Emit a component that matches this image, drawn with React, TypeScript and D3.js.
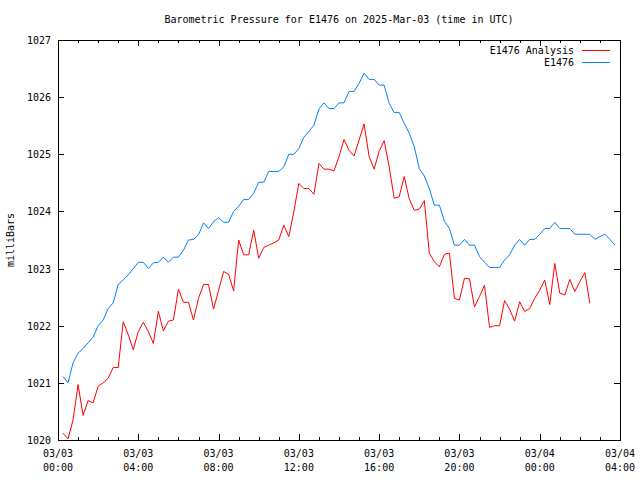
import React from "react";
import * as d3 from "d3";

const TITLE = "Barometric Pressure for E1476 on 2025-Mar-03 (time in UTC)";
const Y_LABEL = "milliBars";
const SERIES_NAMES = ["E1476 Analysis", "E1476"];
const SERIES_COLORS = ["#ff0000", "#0080ff"];

// first sample at 00:15 UTC, one sample every 15 minutes
const START_UTC = Date.UTC(2025, 2, 3, 0, 15);
const END_UTC = Date.UTC(2025, 2, 4, 4, 0);
const DOMAIN_START = Date.UTC(2025, 2, 3, 0, 0);
const STEP_MINUTES = 15;

const analysisValues = [
  1020.12, 1020.02, 1020.35, 1020.97,
  1020.43, 1020.69, 1020.65, 1020.94,
  1021.0, 1021.08, 1021.27, 1021.27,
  1022.07, 1021.84, 1021.58, 1021.9,
  1022.06, 1021.9, 1021.69, 1022.25,
  1021.91, 1022.08, 1022.1, 1022.64,
  1022.41, 1022.41, 1022.1, 1022.48,
  1022.72, 1022.72, 1022.29, 1022.62,
  1022.95, 1022.9, 1022.61, 1023.5,
  1023.24, 1023.24, 1023.67, 1023.18,
  1023.37, 1023.41, 1023.45, 1023.5,
  1023.76, 1023.56, 1024.0, 1024.49,
  1024.4, 1024.4, 1024.3, 1024.84,
  1024.74, 1024.74, 1024.71, 1024.96,
  1025.26, 1025.07, 1024.97, 1025.25,
  1025.53, 1024.96, 1024.74, 1025.05,
  1025.24, 1024.78, 1024.23, 1024.26,
  1024.61, 1024.22, 1024.02, 1024.04,
  1024.19, 1023.27, 1023.12, 1023.03,
  1023.25, 1023.27, 1022.48, 1022.45,
  1022.83, 1022.82, 1022.33, 1022.51,
  1022.71, 1021.97, 1022.0, 1022.0,
  1022.44, 1022.29, 1022.08, 1022.42,
  1022.25, 1022.3, 1022.48, 1022.62,
  1022.8, 1022.37, 1023.09, 1022.57,
  1022.54, 1022.81, 1022.6, 1022.77,
  1022.93, 1022.39,
];

const observedValues = [
  1021.11, 1021.0, 1021.35, 1021.52,
  1021.6, 1021.7, 1021.8, 1022.0,
  1022.1, 1022.3, 1022.4, 1022.72,
  1022.8, 1022.89, 1023.0, 1023.11,
  1023.11, 1023.0, 1023.1, 1023.11,
  1023.2, 1023.11, 1023.2, 1023.2,
  1023.32, 1023.5, 1023.51, 1023.59,
  1023.8, 1023.7, 1023.82, 1023.89,
  1023.81, 1023.81, 1024.0, 1024.09,
  1024.21, 1024.21, 1024.32, 1024.51,
  1024.51, 1024.7, 1024.7, 1024.7,
  1024.78, 1025.0, 1025.0, 1025.1,
  1025.3, 1025.4, 1025.51, 1025.79,
  1025.9, 1025.8, 1025.8, 1025.9,
  1025.9, 1026.1, 1026.1, 1026.24,
  1026.42, 1026.31, 1026.31, 1026.21,
  1026.21, 1025.89, 1025.73, 1025.73,
  1025.54, 1025.37, 1025.13, 1024.75,
  1024.62, 1024.4, 1024.11, 1024.11,
  1023.83, 1023.7, 1023.41, 1023.41,
  1023.51, 1023.41, 1023.41, 1023.21,
  1023.11, 1023.02, 1023.02, 1023.02,
  1023.15, 1023.24, 1023.41, 1023.51,
  1023.41, 1023.51, 1023.51, 1023.6,
  1023.7, 1023.7, 1023.81, 1023.7,
  1023.7, 1023.7, 1023.6, 1023.6,
  1023.6, 1023.6, 1023.51, 1023.56,
  1023.6, 1023.51, 1023.41,
];

const Y_TICKS = [1020, 1021, 1022, 1023, 1024, 1025, 1026, 1027];

const FONT = "'DejaVu Sans Mono', 'Liberation Mono', monospace";

const W = 640;
const H = 480;
const M = { left: 58, right: 620, top: 40, bottom: 440 };

export default function App() {
  const x = d3
    .scaleUtc()
    .domain([new Date(DOMAIN_START), new Date(END_UTC)])
    .range([M.left, M.right]);
  const y = d3.scaleLinear().domain([1020, 1027]).range([M.bottom, M.top]);

  const toPoints = (vals: number[]) =>
    vals.map((v, i) => ({ t: new Date(START_UTC + i * STEP_MINUTES * 60000), v }));

  const line = d3
    .line<{ t: Date; v: number }>()
    .x((d) => x(d.t))
    .y((d) => y(d.v));

  const series = [toPoints(analysisValues), toPoints(observedValues)];

  const majorTicks = x.ticks(d3.utcHour.every(4)!);
  const minorTicks = x.ticks(d3.utcHour.every(1)!);
  const fmtDate = d3.utcFormat("%m/%d");
  const fmtTime = d3.utcFormat("%H:%M");

  const px = (v: number) => Math.round(v) + 0.5;

  return (
    <svg
      width={W}
      height={H}
      style={{ position: "absolute", left: 0, top: 0, background: "#fff" }}
      fontFamily={FONT}
      fontSize={10}
    >
      <rect x={0} y={0} width={W} height={H} fill="#fff" />
      <text x={(M.left + M.right) / 2} y={23} textAnchor="middle" fill="#000">
        {TITLE}
      </text>

      {/* y ticks and labels */}
      <g shapeRendering="crispEdges" stroke="#000">
        {Y_TICKS.map((t) => (
          <g key={t}>
            <line x1={M.left} x2={M.left + 6} y1={px(y(t))} y2={px(y(t))} />
            <line x1={M.right - 6} x2={M.right} y1={px(y(t))} y2={px(y(t))} />
          </g>
        ))}
        {minorTicks.map((t) => {
          const isMajor = t.getUTCHours() % 4 === 0;
          const len = isMajor ? 6 : 3;
          const xx = px(x(t));
          return (
            <g key={+t}>
              <line x1={xx} x2={xx} y1={M.bottom} y2={M.bottom - len} />
              <line x1={xx} x2={xx} y1={M.top} y2={M.top + len} />
            </g>
          );
        })}
      </g>
      {Y_TICKS.map((t) => (
        <text key={t} x={51} y={y(t) + 4} textAnchor="end" fill="#000">
          {t}
        </text>
      ))}
      {majorTicks.map((t) => (
        <g key={+t}>
          <text x={x(t)} y={457} textAnchor="middle" fill="#000">
            {fmtDate(t)}
          </text>
          <text x={x(t)} y={471} textAnchor="middle" fill="#000">
            {fmtTime(t)}
          </text>
        </g>
      ))}
      <text
        transform={`translate(14,${(M.top + M.bottom) / 2}) rotate(-90)`}
        textAnchor="middle"
        fill="#000"
      >
        {Y_LABEL}
      </text>

      {/* data */}
      {series.map((s, i) => (
        <path
          key={i}
          d={line(s) || ""}
          fill="none"
          stroke={SERIES_COLORS[i]}
          strokeWidth={1}
        />
      ))}

      {/* legend */}
      {SERIES_NAMES.map((name, i) => (
        <g key={name}>
          <text x={574} y={54 + i * 12} textAnchor="end" fill="#000">
            {name}
          </text>
          <line
            x1={582}
            x2={610}
            y1={50.5 + i * 12}
            y2={50.5 + i * 12}
            stroke={SERIES_COLORS[i]}
            shapeRendering="crispEdges"
          />
        </g>
      ))}

      {/* frame */}
      <rect
        x={M.left + 0.5}
        y={M.top + 0.5}
        width={M.right - M.left}
        height={M.bottom - M.top}
        fill="none"
        stroke="#000"
        shapeRendering="crispEdges"
      />
    </svg>
  );
}
